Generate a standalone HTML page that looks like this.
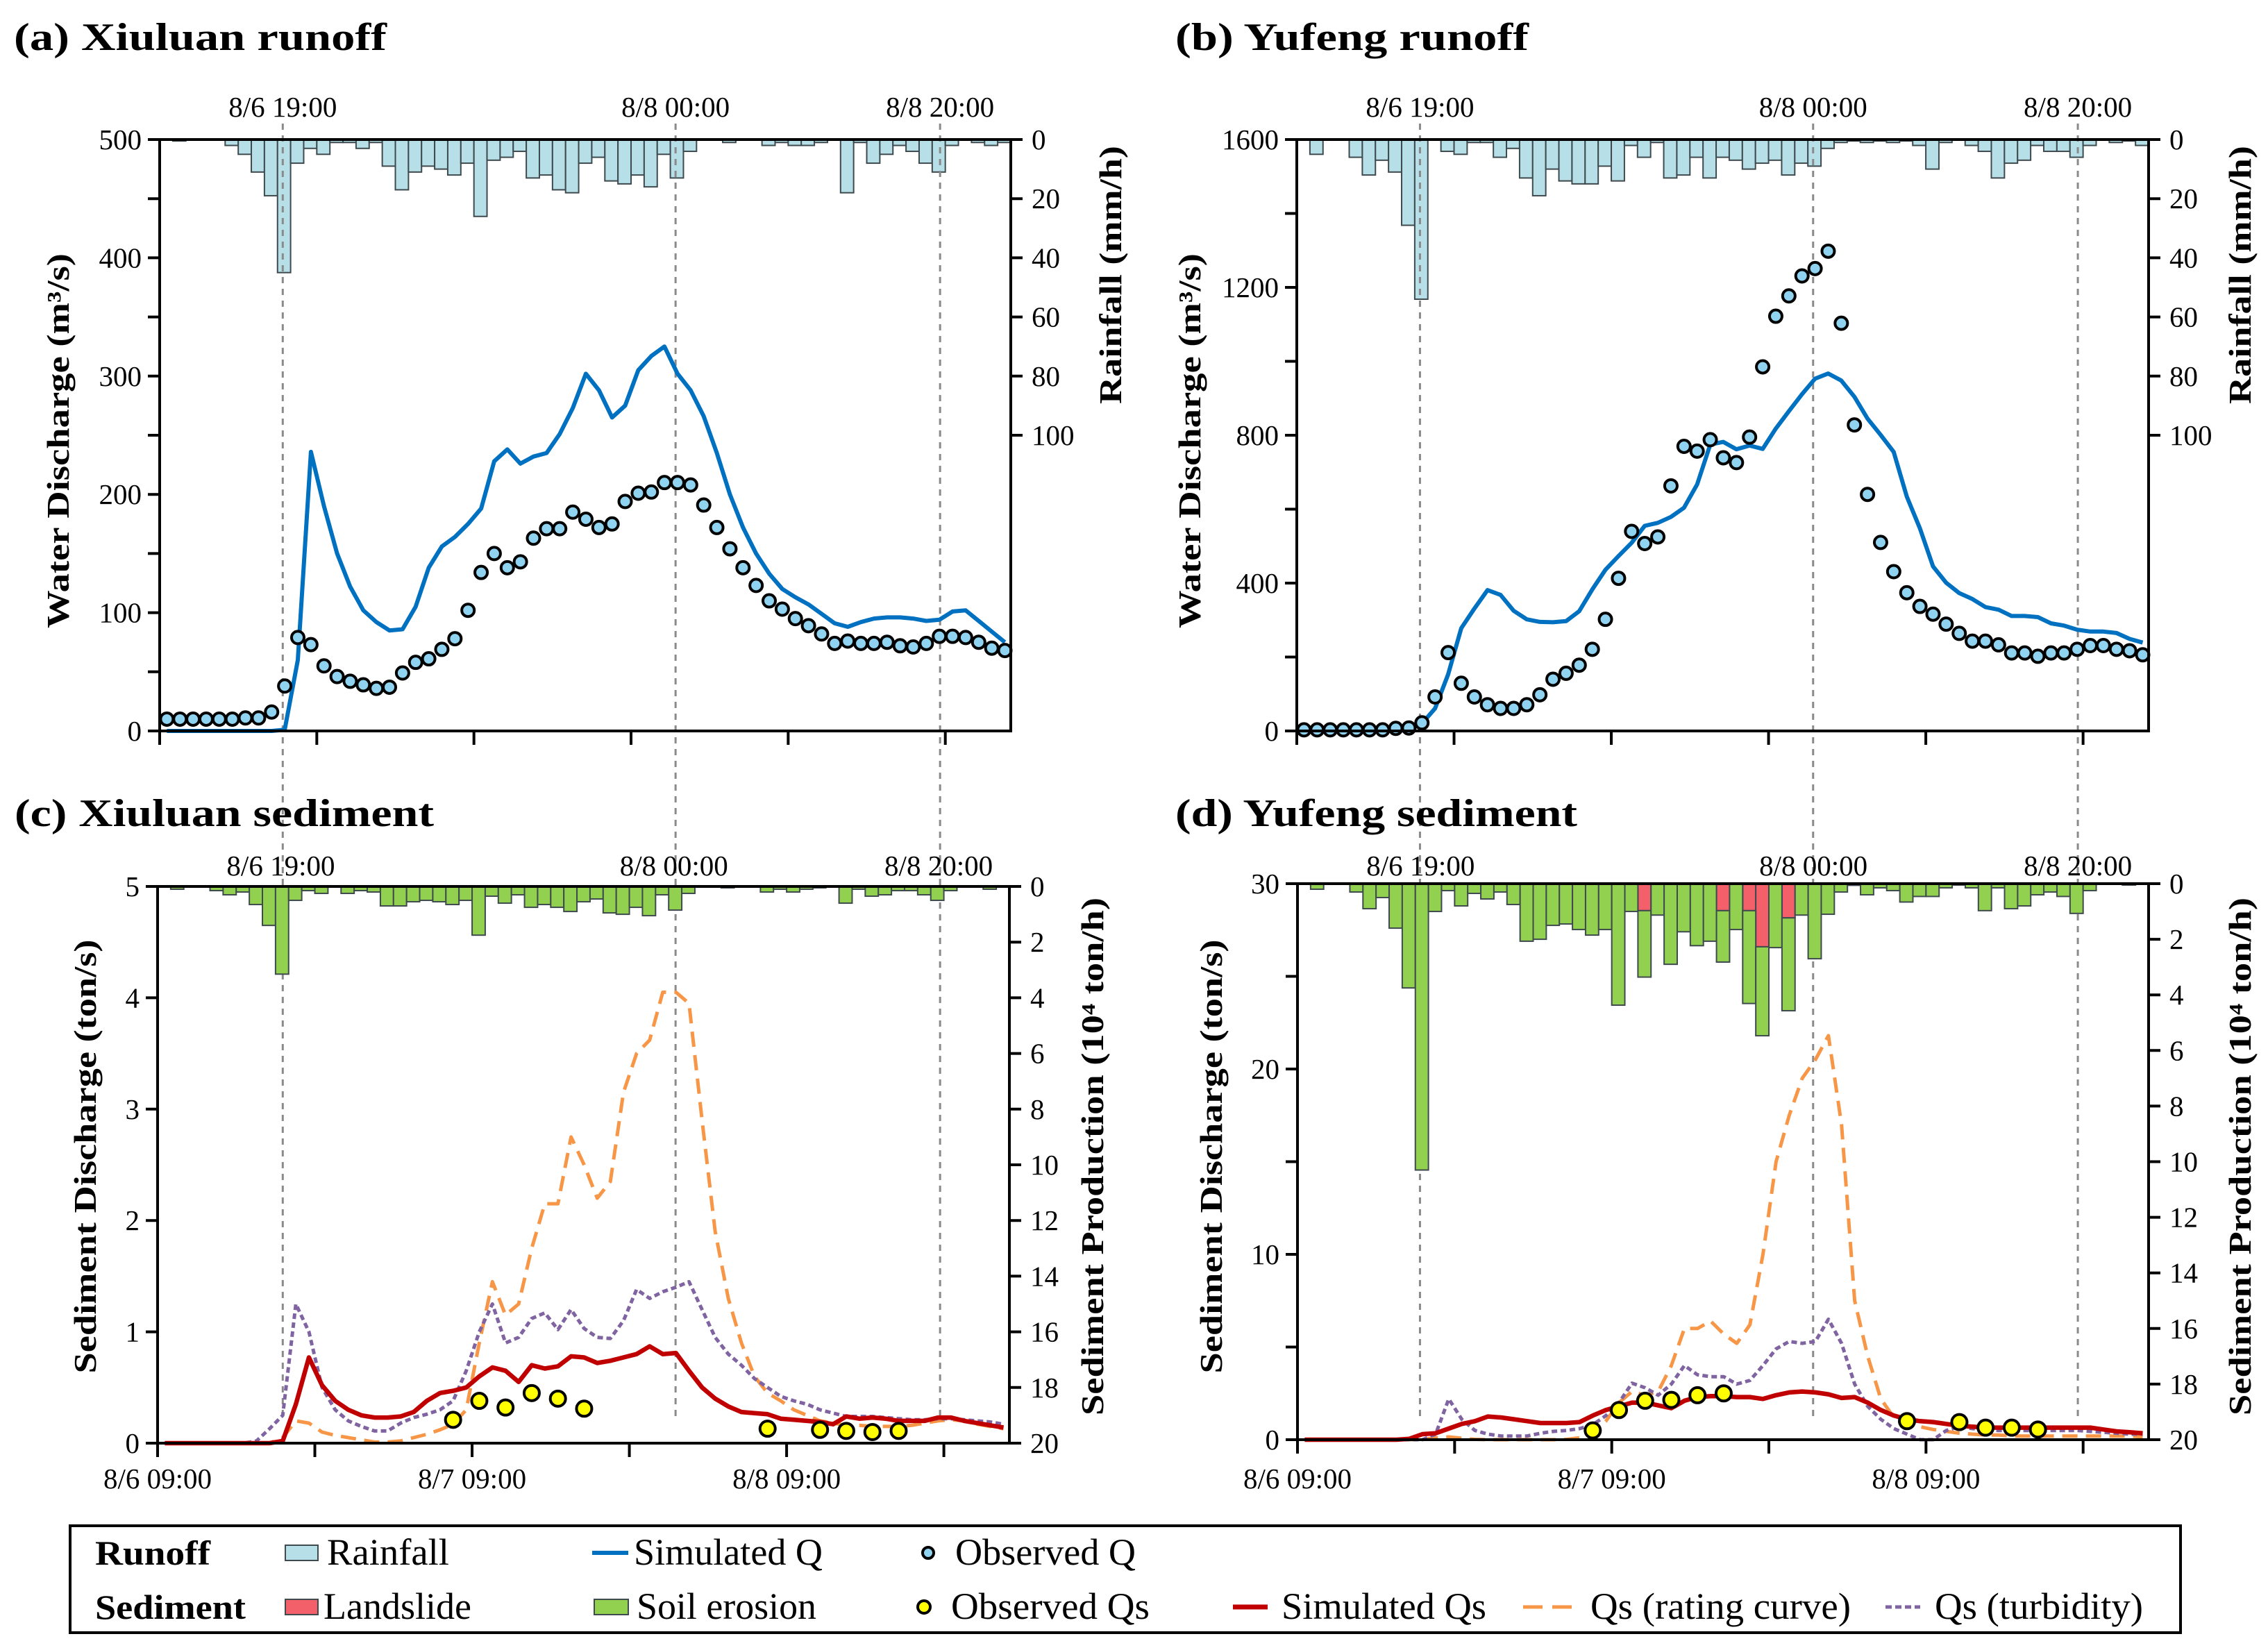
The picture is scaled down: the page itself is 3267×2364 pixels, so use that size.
<!DOCTYPE html>
<html><head><meta charset="utf-8"><style>
html,body{margin:0;padding:0;background:#fff;}
svg{display:block;}
svg text{font-family:"Liberation Serif","Times New Roman",serif;}
</style></head><body>
<svg id="fig" xmlns="http://www.w3.org/2000/svg" width="3267" height="2364" viewBox="0 0 3267 2364" font-family="Liberation Serif, serif">
<rect x="0" y="0" width="3267" height="2364" fill="#fff"/>
</svg>
<script>
// ---------- data (hourly, index 0 = 8/6 09:00) ----------
const rainA = [0,0.5,0,0,0,2,5,11,19,45,8,3,5,1,1,3,1,9,17,11,9,10,12,8,26,7,6,4,13,12,17,18,8,6,14,15,12,16,5,13,4,0,0,1,0,0,2,1,2,2,1,0,18,1,8,5,2,4,8,11,2,0,1,2,1];
const obsQA = [10,10,10,10,10,10,11,11,16,38,79,73,55,46,42,39,36,37,49,58,61,69,78,102,134,150,138,143,163,171,171,185,179,172,175,194,201,202,210,210,208,191,172,154,138,123,110,103,95,89,82,74,76,74,74,75,72,71,74,80,80,79,75,70,68];
const simQA = [0,0,0,0,0,0,0,0,0,1,60,236,190,150,122,102,92,85,86,105,138,156,164,175,188,228,238,226,232,235,251,273,302,288,265,275,305,317,325,302,288,266,235,200,172,150,133,120,113,107,99,91,88,92,95,96,96,95,93,94,101,102,93,84,75];
const rainB = [0,5,0,0,6,12,7,11,29,54,0,4,5,1,1,6,3,13,19,10,14,15,15,9,14,2,6,1,13,12,6,13,6,7,10,8,7,12,8,9,3,1,0.5,1,0.5,1,0.5,2,10,1,0,2,4,13,8,7,2,4,4,6,2,0,1,0.5,2];
const obsQB = [3,3,3,3,3,3,3,7,8,22,92,212,129,92,71,61,61,71,98,140,156,178,221,302,413,540,507,525,663,770,757,788,739,726,795,985,1122,1177,1231,1251,1298,1103,828,640,510,431,374,337,316,289,264,243,243,233,211,211,202,211,211,221,231,231,221,217,206];
const simQB = [0,0,0,0,0,0,0,0,7,20,61,153,278,331,381,368,325,302,295,294,297,324,383,436,473,509,555,563,579,604,667,775,782,762,772,763,818,865,911,953,967,948,904,845,801,755,634,548,445,401,373,357,335,328,311,311,308,291,285,274,269,269,265,249,239];
const soilC = [0,0.1,0,0,0.15,0.3,0.2,0.65,1.4,3.15,0.5,0.15,0.25,0,0.25,0.15,0.2,0.7,0.7,0.55,0.5,0.55,0.65,0.5,1.75,0.35,0.6,0.3,0.75,0.65,0.75,0.9,0.55,0.45,0.95,1.0,0.75,1.05,0.3,0.85,0.25,0,0,0.05,0,0,0.2,0.1,0.2,0.1,0.05,0,0.6,0.1,0.35,0.3,0.15,0.15,0.3,0.5,0.15,0,0,0.1,0];
const simQsC = [0,0,0,0,0,0,0,0,0,0.02,0.35,0.77,0.52,0.38,0.3,0.25,0.23,0.23,0.24,0.28,0.38,0.45,0.47,0.5,0.6,0.68,0.65,0.55,0.7,0.67,0.69,0.78,0.77,0.72,0.74,0.77,0.8,0.87,0.8,0.81,0.65,0.5,0.4,0.33,0.28,0.27,0.26,0.22,0.21,0.2,0.19,0.17,0.24,0.22,0.23,0.22,0.2,0.2,0.2,0.23,0.23,0.2,0.18,0.16,0.14];
const ratingC = [0,0,0,0,0,0,0,0,0,0.05,0.2,0.18,0.1,0.07,0.05,0.03,0.01,0.01,0.02,0.05,0.08,0.12,0.17,0.3,0.9,1.45,1.15,1.25,1.75,2.15,2.15,2.75,2.5,2.2,2.35,3.15,3.5,3.62,4.05,4.05,3.95,2.9,1.9,1.3,0.9,0.6,0.45,0.38,0.3,0.25,0.2,0.18,0.16,0.16,0.15,0.15,0.15,0.16,0.18,0.2,0.21,0.2,0.17,0.15,0.13];
const turbC = [0,0,0,0,0,0,0,0.02,0.13,0.25,1.25,1.0,0.5,0.3,0.2,0.15,0.11,0.11,0.18,0.23,0.26,0.3,0.38,0.65,1.0,1.25,0.9,0.95,1.12,1.17,1.02,1.2,1.03,0.95,0.94,1.1,1.38,1.3,1.36,1.4,1.45,1.2,0.95,0.8,0.7,0.58,0.5,0.42,0.38,0.35,0.3,0.27,0.24,0.24,0.24,0.23,0.22,0.21,0.21,0.22,0.22,0.21,0.2,0.19,0.17];
const obsQsHours = [22,24,26,28,30,32,46,50,52,54,56];
const obsQsC = [0.21,0.38,0.32,0.45,0.4,0.31,0.13,0.12,0.11,0.1,0.11];
const soilD = [0,0.2,0,0,0.3,0.9,0.5,1.6,3.75,10.3,1.0,0.25,0.8,0.35,0.55,0.3,0.75,2.07,2.0,1.5,1.45,1.65,1.85,1.65,4.37,1.0,2.39,1.13,2.9,1.73,2.23,2.07,1.85,1.65,3.34,3.2,2.3,3.34,1.13,2.7,1.1,0.3,0.06,0.4,0.15,0.25,0.66,0.46,0.46,0.15,0.05,0.15,0.97,0.15,0.9,0.8,0.4,0.3,0.46,1.07,0.25,0,0,0.05,0];
const slideD = [0,0,0,0,0,0,0,0,0,0,0,0,0,0,0,0,0,0,0,0,0,0,0,0,0,0,0.97,0,0,0,0,0,0.97,0,0.97,2.27,0,1.23,0,0,0,0,0,0,0,0,0,0,0,0,0,0,0,0,0,0,0,0,0,0,0,0,0,0,0];
const simQsD = [0,0,0,0,0,0,0,0,0.05,0.3,0.35,0.6,0.85,1.0,1.25,1.2,1.1,1.0,0.9,0.9,0.9,0.95,1.3,1.6,1.8,2.0,2.0,1.85,1.7,2.1,2.3,2.35,2.35,2.3,2.3,2.2,2.4,2.55,2.6,2.55,2.45,2.25,2.3,2.0,1.6,1.3,1.1,1.0,0.95,0.85,0.75,0.7,0.65,0.65,0.65,0.65,0.65,0.65,0.65,0.65,0.65,0.55,0.45,0.4,0.35];
const ratingD = [0,0,0,0,0,0,0,0,0,0.02,0.1,0.15,0.08,0.02,0,0,0,0,0,0,0.02,0.1,0.3,1.0,2.0,2.6,2.4,2.6,4.0,6.0,6.0,6.4,5.7,5.2,6.2,10.0,15.0,17.5,19.5,20.5,21.8,17.0,7.5,4.5,2.2,1.2,0.9,0.7,0.55,0.45,0.35,0.3,0.25,0.25,0.2,0.2,0.2,0.2,0.2,0.2,0.2,0.2,0.2,0.2,0.15];
const turbD = [0,0,0,0,0,0,0,0,0,0,0.3,2.2,1.1,0.5,0.3,0.2,0.2,0.2,0.35,0.45,0.5,0.6,0.8,1.3,2.0,3.05,2.8,2.4,3.0,4.0,3.5,3.4,3.4,3.0,3.2,4.0,4.9,5.3,5.2,5.3,6.5,5.2,3.0,1.8,1.1,0.6,0.3,0.0,0.0,0.5,0.7,0.6,0.55,0.5,0.5,0.5,0.5,0.5,0.5,0.5,0.45,0.4,0.35,0.3,0.3];
const obsQsD = [0.5,1.6,2.1,2.15,2.4,2.5,1.0,0.95,0.65,0.65,0.55];
const eventHours = [9.4,39.4,59.6];
const eventLabels = ["8/6 19:00","8/8 00:00","8/8 20:00"];
const bottomTickHours = [0,12,24,36,48,60];
const bottomLabels = ["8/6 09:00","","8/7 09:00","","8/8 09:00",""];
const ticksA = [0,50,100,150,200,250,300,350,400,450,500];
const labelsA = ["0","","100","","200","","300","","400","","500"];
const ticksB = [0,200,400,600,800,1000,1200,1400,1600];
const labelsB = ["0","","400","","800","","1200","","1600"];
const ticksC = [0,1,2,3,4,5];
const labelsC = ["0","1","2","3","4","5"];
const ticksD = [0,5,10,15,20,25,30];
const labelsD = ["0","","10","","20","","30"];
const rainTicks = [0,20,40,60,80,100];
const prodTicks = [0,2,4,6,8,10,12,14,16,18,20];

// ---------- drawing ----------
const svg = document.getElementById('fig');
const NS = 'http://www.w3.org/2000/svg';
const NH = 65;
const FONT = '"Liberation Serif", "Times New Roman", serif';
function mk(tag, attrs){ const e=document.createElementNS(NS,tag); for(const k in attrs) e.setAttribute(k,attrs[k]); svg.appendChild(e); return e; }
function txt(str,x,y,size,opts){
  opts=opts||{};
  const t=document.createElementNS(NS,'text');
  t.textContent=str;
  t.setAttribute('font-size',size);
  t.setAttribute('font-family',FONT);
  t.style.fontFamily=FONT;
  t.setAttribute('fill','#000');
  if(opts.bold) t.setAttribute('font-weight','bold');
  t.setAttribute('text-anchor',opts.anchor||'start');
  const sx=opts.sx||1;
  let tr='translate('+x+','+y+')';
  if(opts.rot) tr+=' rotate('+opts.rot+')';
  tr+=' scale('+sx+',1)';
  t.setAttribute('transform',tr);
  if(opts.len){ t.setAttribute('textLength',opts.len); t.setAttribute('lengthAdjust','spacingAndGlyphs'); }
  svg.appendChild(t); return t;
}
const P = {
  a:{L:230,R:1456,T:201,B:1053,yMax:500,rMax:200},
  b:{L:1868,R:3095,T:201,B:1053,yMax:1600,rMax:200},
  c:{L:227,R:1454,T:1277,B:2079,yMax:5,rMax:20},
  d:{L:1869,R:3095,T:1273,B:2074,yMax:30,rMax:20}
};
function X(p,h){ return p.L + h*(p.R-p.L)/NH; }
function YL(p,v){ return p.B - v/p.yMax*(p.B-p.T); }
function YR(p,v){ return p.T + v/p.rMax*(p.B-p.T); }

function bars(p,vals,fill,name,base){
  const w=(p.R-p.L)/NH;
  vals.forEach((v,i)=>{
    if(v<=0) return;
    const b0 = base? base[i]:0;
    const y0=YR(p,b0), y1=YR(p,b0+v);
    const r=mk('rect',{x:X(p,i),y:y0,width:w,height:y1-y0,fill:fill,stroke:'#3f4a4e','stroke-width':2});
    
    
  });
}
function line(p,vals,color,width,dash,name){
  const pts=vals.map((v,i)=>X(p,i+0.55).toFixed(1)+','+YL(p,v).toFixed(1)).join(' ');
  const a={points:pts,fill:'none',stroke:color,'stroke-width':width,'stroke-linejoin':'round'};
  if(dash) a['stroke-dasharray']=dash;
  const e=mk('polyline',a);
  
  
}
function dots(p,hrs,vals,fill,r,name){
  vals.forEach((v,i)=>{
    const h = hrs? hrs[i] : i;
    const c=mk('circle',{cx:X(p,h+0.55),cy:YL(p,v),r:r,fill:fill,stroke:'#000','stroke-width':4});
    
    
  });
}
function axes(p,ticks,labels,rTicks,rLabelsShown,showBottom,key){
  const g=(a)=>{const e=mk('line',a); return e;};
  const f=mk('rect',{x:p.L,y:p.T,width:p.R-p.L,height:p.B-p.T,fill:'none',stroke:'#000','stroke-width':4});
  
  
  ticks.forEach((v,i)=>{
    const y=YL(p,v);
    g({x1:p.L-17,y1:y,x2:p.L,y2:y,stroke:'#000','stroke-width':4});
    if(labels[i]) { const t=txt(labels[i],p.L-26,y+14,41,{anchor:'end'});
      
       }
  });
  rTicks.forEach((v)=>{
    const y=YR(p,v);
    g({x1:p.R,y1:y,x2:p.R+17,y2:y,stroke:'#000','stroke-width':4});
    if(rLabelsShown){ const t=txt(String(v),p.R+30,y+14,41);
      
       }
  });
  bottomTickHours.forEach((h,i)=>{
    const x=X(p,h);
    g({x1:x,y1:p.B,x2:x,y2:p.B+20,stroke:'#000','stroke-width':4});
    if(showBottom && bottomLabels[i]){ const t=txt(bottomLabels[i],x,2144,41,{anchor:'middle'});
      
       }
  });
}
function events(p,y1,y2){
  eventHours.forEach((h,i)=>{
    const x=X(p,h);
    const l=mk('line',{x1:x,y1:y1,x2:x,y2:y2,stroke:'#8a8a8a','stroke-width':3,'stroke-dasharray':'9,8'});
    
    
  });
}
function eventLabelsAt(p,labelY){
  eventHours.forEach((h,i)=>{
    const t=txt(eventLabels[i],X(p,h),labelY,41,{anchor:'middle'});
    
    
  });
}

// Panel a
bars(P.a,rainA,'#b7dfe8','rain-bar-a');
events(P.a,178,2043);
line(P.a,simQA,'#0070c0',6,null,'simulated-q-a');
dots(P.a,null,obsQA,'#8fd3f0',9,'observed-q-a');
axes(P.a,ticksA,labelsA,rainTicks,true,false,'a');
eventLabelsAt(P.a,168);
// Panel b
bars(P.b,rainB,'#b7dfe8','rain-bar-b');
events(P.b,178,2043);
line(P.b,simQB,'#0070c0',6,null,'simulated-q-b');
dots(P.b,null,obsQB,'#8fd3f0',9,'observed-q-b');
axes(P.b,ticksB,labelsB,rainTicks,true,false,'b');
eventLabelsAt(P.b,168);
// Panel c
bars(P.c,soilC,'#92d050','soil-erosion-bar-c');
line(P.c,ratingC,'#f79646',5,'22,12','qs-rating-curve-c');
line(P.c,turbC,'#8064a2',5,'8,5','qs-turbidity-c');
line(P.c,simQsC,'#c00000',6.5,null,'simulated-qs-c');
dots(P.c,obsQsHours,obsQsC,'#ffff00',11,'observed-qs-c');
axes(P.c,ticksC,labelsC,prodTicks,true,true,'c');
eventLabelsAt(P.c,1261);
// Panel d
bars(P.d,slideD,'#f4606a','landslide-bar-d');
bars(P.d,soilD,'#92d050','soil-erosion-bar-d',slideD);
line(P.d,ratingD,'#f79646',5,'22,12','qs-rating-curve-d');
line(P.d,turbD,'#8064a2',5,'8,5','qs-turbidity-d');
line(P.d,simQsD,'#c00000',6.5,null,'simulated-qs-d');
dots(P.d,obsQsHours,obsQsD,'#ffff00',11,'observed-qs-d');
axes(P.d,ticksD,labelsD,prodTicks,true,true,'d');
eventLabelsAt(P.d,1261);

// Titles
let t;
t=txt('(a) Xiuluan runoff',20,72,56,{bold:true,len:537});  
t=txt('(b) Yufeng runoff',1693,72,56,{bold:true,len:509});  
t=txt('(c) Xiuluan sediment',21,1190,56,{bold:true,len:604});  
t=txt('(d) Yufeng sediment',1693,1190,56,{bold:true,len:579});  
// Axis titles
t=txt('Water Discharge (m³/s)',99,635,46,{bold:true,rot:-90,anchor:'middle',len:540});  
t=txt('Rainfall (mm/h)',1615,396,46,{bold:true,rot:-90,anchor:'middle',len:372});  
t=txt('Water Discharge (m³/s)',1729,635,46,{bold:true,rot:-90,anchor:'middle',len:540});  
t=txt('Rainfall (mm/h)',3242,396,46,{bold:true,rot:-90,anchor:'middle',len:372});  
t=txt('Sediment Discharge (ton/s)',138,1666,46,{bold:true,rot:-90,anchor:'middle',len:625});  
t=txt('Sediment Production (10⁴ ton/h)',1589,1666,46,{bold:true,rot:-90,anchor:'middle',len:746});  
t=txt('Sediment Discharge (ton/s)',1760,1666,46,{bold:true,rot:-90,anchor:'middle',len:625});  
t=txt('Sediment Production (10⁴ ton/h)',3242,1666,46,{bold:true,rot:-90,anchor:'middle',len:746});  

// Legend
let e=mk('rect',{x:101,y:2198,width:3040,height:154,fill:'#fff',stroke:'#000','stroke-width':4});
 
const r1=2254, r2=2332, c1=2237, c2=2315;
t=txt('Runoff',137,r1,50,{bold:true,len:166});  
t=txt('Sediment',137,r2,50,{bold:true,len:217});  
e=mk('rect',{x:411,y:c1-11,width:47,height:22,fill:'#b7dfe8',stroke:'#3f4a4e','stroke-width':2});  
t=txt('Rainfall',471,r1,54,{len:176});  
e=mk('line',{x1:853,y1:c1,x2:905,y2:c1,stroke:'#0070c0','stroke-width':6});  
t=txt('Simulated Q',913,r1,54,{len:272});  
e=mk('circle',{cx:1337,cy:c1,r:8,fill:'#8fd3f0',stroke:'#000','stroke-width':4});  
t=txt('Observed Q',1376,r1,54,{len:260});  
e=mk('rect',{x:411,y:c2-11,width:47,height:22,fill:'#f4606a',stroke:'#3f4a4e','stroke-width':2});  
t=txt('Landslide',466,r2,54,{len:213});  
e=mk('rect',{x:856,y:c2-11,width:49,height:22,fill:'#92d050',stroke:'#3f4a4e','stroke-width':2});  
t=txt('Soil erosion',917,r2,54,{len:259});  
e=mk('circle',{cx:1331,cy:c2,r:9,fill:'#ffff00',stroke:'#000','stroke-width':4});  
t=txt('Observed Qs',1370,r2,54,{len:286});  
e=mk('line',{x1:1776,y1:c2,x2:1826,y2:c2,stroke:'#c00000','stroke-width':7});  
t=txt('Simulated Qs',1846,r2,54,{len:295});  
e=mk('line',{x1:2194,y1:c2,x2:2267,y2:c2,stroke:'#f79646','stroke-width':5,'stroke-dasharray':'28,14'});  
t=txt('Qs (rating curve)',2291,r2,54,{len:375});  
e=mk('line',{x1:2716,y1:c2,x2:2766,y2:c2,stroke:'#8064a2','stroke-width':5,'stroke-dasharray':'9,5'});  
t=txt('Qs (turbidity)',2787,r2,54,{len:300});  
</script>
</body></html>
